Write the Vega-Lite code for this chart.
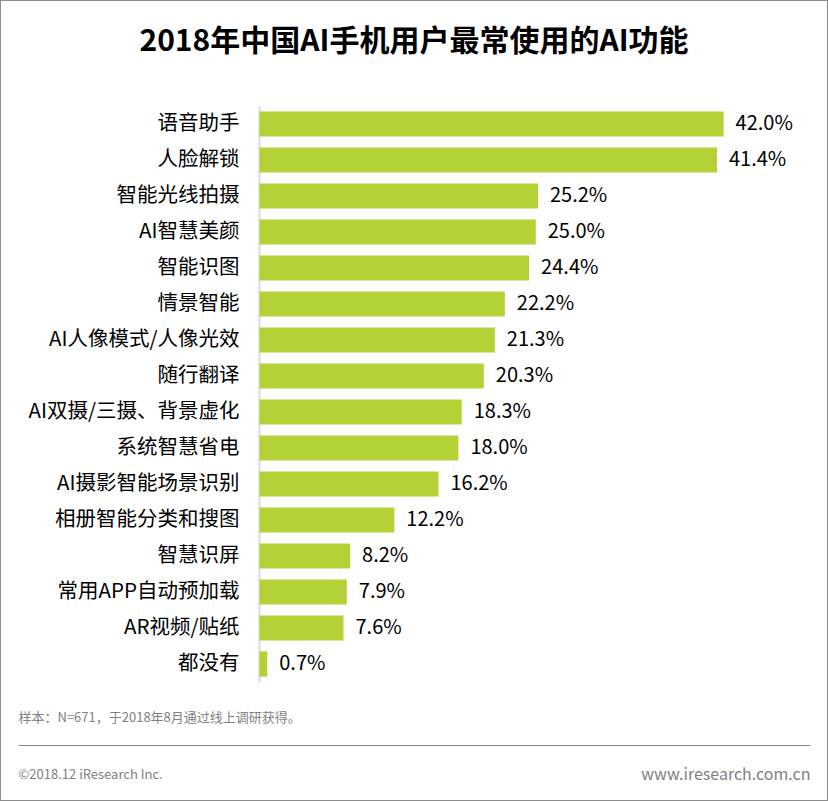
{
  "$schema": "https://vega.github.io/schema/vega-lite/v6.json",
  "width": 828,
  "height": 801,
  "autosize": {"type": "none"},
  "padding": 0,
  "background": "white",
  "config": {
    "font": "Noto Sans CJK SC",
    "view": {"stroke": "#8c8c8c", "strokeWidth": 2}
  },
  "title": {
    "text": "2018年中国AI手机用户最常使用的AI功能",
    "fontSize": 30,
    "fontWeight": "bold",
    "color": "#000000",
    "anchor": "middle",
    "baseline": "middle",
    "offset": -72
  },
  "data": {
    "values": [
      {"category": "语音助手", "value": 0.420},
      {"category": "人脸解锁", "value": 0.414},
      {"category": "智能光线拍摄", "value": 0.252},
      {"category": "AI智慧美颜", "value": 0.250},
      {"category": "智能识图", "value": 0.244},
      {"category": "情景智能", "value": 0.222},
      {"category": "AI人像模式/人像光效", "value": 0.213},
      {"category": "随行翻译", "value": 0.203},
      {"category": "AI双摄/三摄、背景虚化", "value": 0.183},
      {"category": "系统智慧省电", "value": 0.180},
      {"category": "AI摄影智能场景识别", "value": 0.162},
      {"category": "相册智能分类和搜图", "value": 0.122},
      {"category": "智慧识屏", "value": 0.082},
      {"category": "常用APP自动预加载", "value": 0.079},
      {"category": "AR视频/贴纸", "value": 0.076},
      {"category": "都没有", "value": 0.007}
    ]
  },
  "encoding": {
    "y": {
      "field": "category",
      "type": "nominal",
      "sort": null,
      "scale": {"range": [106, 682], "paddingInner": 0.3, "paddingOuter": 0.15},
      "axis": {
        "title": null,
        "offset": -259,
        "domainColor": "#d9d9d9",
        "domainWidth": 2,
        "ticks": false,
        "labelFontSize": 20.5,
        "labelColor": "#000000",
        "labelPadding": 20,
        "labelLimit": 400
      }
    },
    "x": {
      "field": "value",
      "type": "quantitative",
      "scale": {"domain": [-0.21855, 0.49819], "range": [18, 810], "nice": false, "zero": false},
      "axis": {
        "orient": "bottom",
        "offset": -56,
        "grid": false,
        "ticks": false,
        "domainColor": "#8c8c8c",
        "domainWidth": 1,
        "values": [-0.21855, 0.49819],
        "labelExpr": "datum.value < 0 ? '©2018.12 iResearch Inc.' : 'www.iresearch.com.cn'",
        "labelFlush": true,
        "labelOverlap": false,
        "labelFontSize": {"condition": {"test": "datum.value < 0", "value": 13}, "value": 16},
        "labelColor": "#7f7f7f",
        "labelBaseline": "middle",
        "labelPadding": 29,
        "title": "样本：N=671，于2018年8月通过线上调研获得。",
        "titleAnchor": "start",
        "titleAlign": "left",
        "titleX": 18,
        "titleY": -28,
        "titleBaseline": "middle",
        "titleFontSize": 13,
        "titleFontWeight": "normal",
        "titleColor": "#7f7f7f"
      }
    }
  },
  "layer": [
    {
      "mark": {"type": "bar", "color": "#b2d235"},
      "encoding": {"x2": {"datum": 0}}
    },
    {
      "mark": {"type": "text", "align": "left", "baseline": "middle", "dx": 12, "fontSize": 20, "color": "#000000"},
      "encoding": {"text": {"field": "value", "type": "quantitative", "format": ".1%"}}
    }
  ]
}
